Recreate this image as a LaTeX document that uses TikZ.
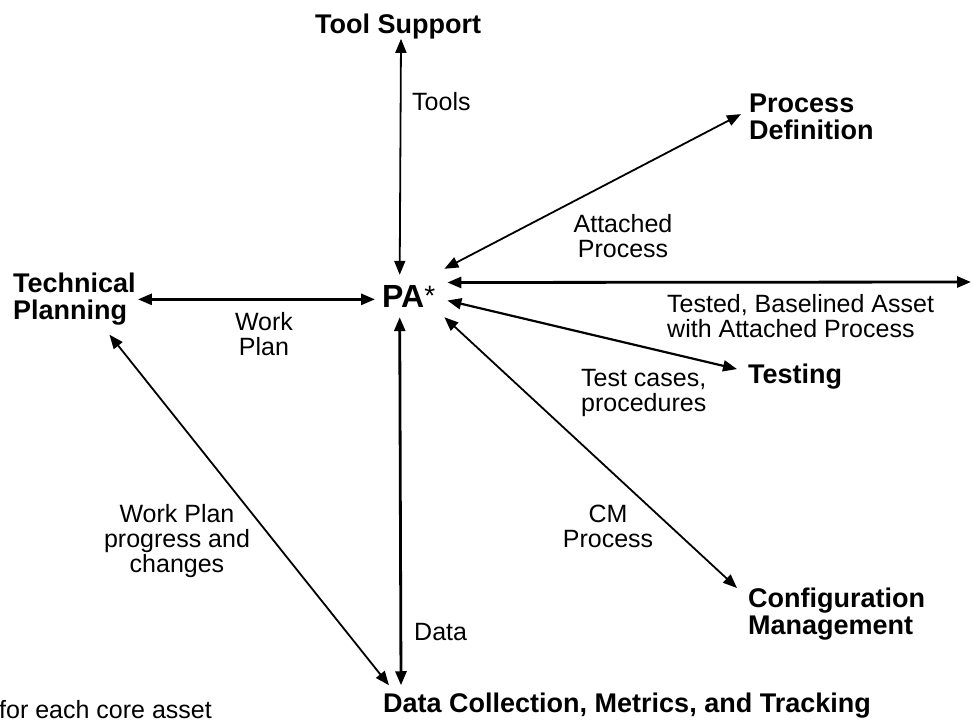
\documentclass[tikz,border=0pt]{standalone}
\usepackage{fontspec}
\setmainfont{Liberation Sans}
\usepackage{tikz}
\usetikzlibrary{arrows.meta}
\tikzset{
  lbl/.style={inner sep=0pt, font=\fontsize{25}{25}\selectfont},
  hdr/.style={inner sep=0pt, font=\fontsize{27}{27}\selectfont\bfseries},
  lnk/.style={{Triangle[length=14pt,width=11pt]}-{Triangle[length=14pt,width=11pt]}, line width=1.8pt},
  lnkbold/.style={lnk, line width=2.8pt}
}
\begin{document}
\begin{tikzpicture}[x=1pt,y=-1pt]
\useasboundingbox (0,0) rectangle (973,726);
\node[inner xsep=9pt, inner ysep=10pt, anchor=base west, font=\fontsize{32}{32}\selectfont\bfseries] (pa) at (373,307) {PA{\mdseries\fontsize{28}{28}\selectfont\raisebox{2pt}{*}}};
\node[hdr, anchor=base] (ts) at (398,33) {Tool Support};
\node[hdr, anchor=north west, align=left] (pd) at (749,94) {Process\\Definition};
\node[hdr, anchor=base west] (tst) at (748,383) {Testing};
\node[hdr, anchor=north west, align=left] (tp) at (13,273) {Technical\\Planning};
\node[hdr, anchor=north west, align=left] (cm) at (748,588) {Configuration\\Management};
\node[hdr, anchor=base west] (dc) at (383,712) {Data Collection, Metrics, and Tracking};
\coordinate (rend) at (971,282);
\node[lbl, anchor=base west] (tools) at (412,110) {Tools};
\node[lbl, anchor=north, align=center] (att) at (623,214) {Attached\\Process};
\node[lbl, anchor=north west, align=left] (tba) at (667,294) {Tested, Baselined Asset\\with Attached Process};
\node[lbl, anchor=north west, align=left] (tc) at (581,369) {Test cases,\\procedures};
\node[lbl, anchor=north, align=center] (wp) at (264,312) {Work\\Plan};
\node[lbl, anchor=north, align=center] (wpp) at (177,504) {Work Plan\\progress and\\changes};
\node[lbl, anchor=north, align=center] (cmp) at (608,505) {CM\\Process};
\node[lbl, anchor=base west] (dat) at (414,640) {Data};
\node[lbl, anchor=base west] (note) at (-1,718) {for each core asset};
\draw [lnk] ([xshift=3pt]ts.south) -- ([xshift=-9pt]pa.north);
\draw [lnk] ([yshift=6pt]pa.north east) -- ([shift={(-8pt,3pt)}]pd.west);
\draw [lnkbold] ([shift={(3pt,13.5pt)}]pa.east) -- (rend);
\draw [lnk, line width=2.2pt] ([shift={(3pt,-4.5pt)}]pa.east) -- ([shift={(-11pt,7pt)}]tst.west);
\draw [lnk] (pa.south east) -- ([xshift=-11pt]cm.north west);
\draw [lnkbold] ([xshift=2pt]tp.east) -- ([xshift=2pt]tp.east -| pa.west);
\draw [lnkbold] ([xshift=-9pt]pa.south) -- ([shift={(18pt,7pt)}]dc.north west);
\draw [lnk] ([shift={(35pt,-9pt)}]tp.south) -- ([shift={(6pt,7pt)}]dc.north west);
\end{tikzpicture}
\end{document}
